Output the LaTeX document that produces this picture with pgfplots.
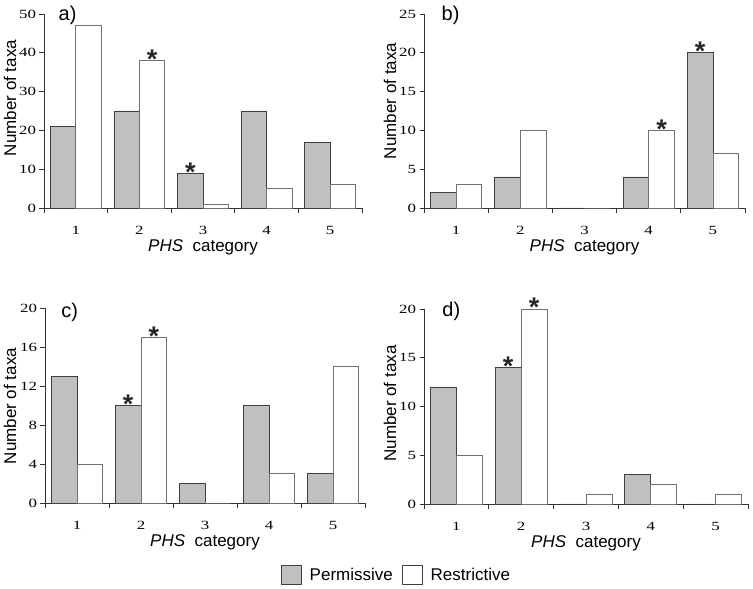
\documentclass[border=0pt]{standalone}
\usepackage{fontspec}
\setmainfont{Liberation Sans}
\newfontfamily\seriffont[FakeStretch=1.35]{Liberation Serif}
\usepackage{pgfplots}
\pgfplotsset{compat=1.18}
\definecolor{permgray}{HTML}{C0C0C0}
\definecolor{edgedark}{HTML}{404040}
\definecolor{edgelight}{HTML}{707070}
\tikzset{plabel/.style={anchor=base west, font=\fontsize{20}{20}\selectfont}}
\pgfplotsset{
 panel/.style={
  scale only axis, ybar, bar width=0.4,
  xmin=0.5, xmax=5.5, ymin=0,
  axis x line=bottom, axis y line=left,
  axis line style={-, line width=0.8pt, draw=black!80},
  xtick={1,2,3,4,5},
  minor xtick={0.5,1.5,2.5,3.5,4.5,5.5},
  major x tick style={draw=none},
  tick align=outside,
  major tick length=4.5pt, minor tick length=5pt,
  tick style={line width=0.8pt, black!80},
  /pgf/number format/assume math mode=true,
  tick label style={font=\seriffont\fontsize{12.5}{12.5}\selectfont},
  xticklabel style={yshift=-10pt},
  xlabel={\textit{PHS}\ \ category},
  xlabel style={font=\fontsize{17}{18}\selectfont, at={(axis description cs:0.5,0)}, anchor=base, yshift=-44pt},
  ylabel={Number of taxa},
  ylabel style={font=\fontsize{17}{18}\selectfont, anchor=center, rotate=0},
  clip=false,
 },
 perm/.style={fill=permgray, draw=edgedark, line width=0.8pt, bar shift=-0.2,
   legend image code/.code={\draw[fill=permgray, draw=edgedark, line width=0.8pt] (0pt,-9.5pt) rectangle (20pt,9.5pt);}},
 rest/.style={fill=white, draw=edgelight, line width=0.8pt, bar shift=0.2,
   legend image code/.code={\draw[fill=white, draw=edgedark, line width=0.8pt] (0pt,-9.5pt) rectangle (20pt,9.5pt);}},
 star/.style={draw=none, fill=none, bar shift=0, forget plot,
   nodes near coords={*},
   nodes near coords style={font=\bfseries\fontsize{27}{27}\selectfont, anchor=base, yshift=-8pt, text=black!85}},
}
\begin{document}
\begin{tikzpicture}
\useasboundingbox (0pt,0pt) rectangle (753pt,589pt);
% a)
\begin{axis}[panel, at={(44pt,381pt)}, anchor=south west, width=318pt, height=194pt,
  ymax=50, ytick={0,10,20,30,40,50},
  ylabel style={at={(axis description cs:-0.107,0.567)}}]
\addplot[perm] coordinates {(1,21) (2,25) (3,9) (4,25) (5,17)};
\addplot[rest] coordinates {(1,47) (2,38) (3,1) (4,5) (5,6)};
\addplot[star] coordinates {(2.2,38) (2.8,9)};
\node[plabel] at (rel axis cs:0.035,0.969) {a)};
\end{axis}
% b)
\begin{axis}[panel, at={(424pt,381pt)}, anchor=south west, width=321pt, height=194pt,
  ymax=25, ytick={0,5,10,15,20,25},
  ylabel style={at={(axis description cs:-0.106,0.552)}}]
\addplot[perm] coordinates {(1,2) (2,4) (3,0) (4,4) (5,20)};
\addplot[rest] coordinates {(1,3) (2,10) (3,0) (4,10) (5,7)};
\addplot[star] coordinates {(4.2,10) (4.8,20)};
\node[plabel] at (rel axis cs:0.044,0.969) {b)};
\end{axis}
% c)
\begin{axis}[panel, at={(45pt,86pt)}, anchor=south west, width=320pt, height=195pt,
  ymax=20, ytick={0,4,8,12,16,20},
  ylabel style={at={(axis description cs:-0.109,0.497)}}]
\addplot[perm] coordinates {(1,13) (2,10) (3,2) (4,10) (5,3)};
\addplot[rest] coordinates {(1,4) (2,17) (3,0) (4,3) (5,14)};
\addplot[star] coordinates {(1.8,10) (2.2,17)};
\node[plabel] at (rel axis cs:0.04,0.949) {c)};
\end{axis}
% d)
\begin{axis}[panel, at={(424pt,85pt)}, anchor=south west, width=324pt, height=195pt,
  ymax=20, ytick={0,5,10,15,20},
  ylabel style={at={(axis description cs:-0.105,0.515)}},
  legend style={at={(axis description cs:-0.085,-0.364)}, anchor=center, draw=none, fill=none,
    legend columns=2, font=\fontsize{17}{18}\selectfont,
    /tikz/every odd column/.append style={column sep=6pt},
    /tikz/every even column/.append style={column sep=7pt}}]
\addplot[perm] coordinates {(1,12) (2,14) (3,0) (4,3) (5,0)};
\addlegendentry{Permissive}
\addplot[rest] coordinates {(1,5) (2,20) (3,1) (4,2) (5,1)};
\addlegendentry{Restrictive}
\addplot[star] coordinates {(1.8,14) (2.2,20)};
\node[plabel] at (rel axis cs:0.046,0.959) {d)};
\end{axis}
\end{tikzpicture}
\end{document}
